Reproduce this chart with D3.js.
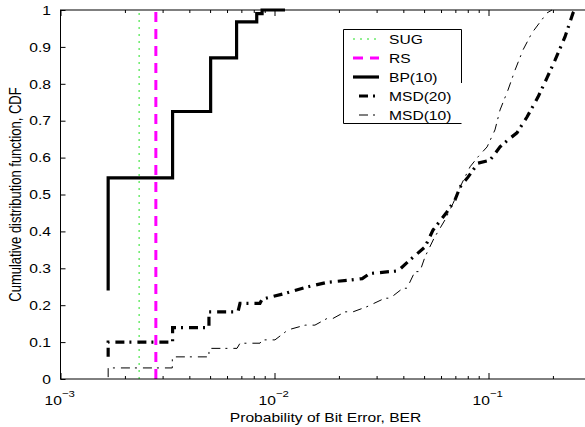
<!DOCTYPE html>
<html>
<head>
<meta charset="utf-8">
<script src="https://cdn.jsdelivr.net/npm/d3@7"></script>
<style>
  body { margin: 0; background: #fff; }
  svg { display: block; }
  text { font-family: "Liberation Sans", Arial, Helvetica, sans-serif; font-size: 13px; fill: #000; }
</style>
</head>
<body>
<script>
// values
const sugBER = [0.00233, 0.00233]
const sugCDF = [0, 1]

const rsBER = [0.00279, 0.00279]
const rsCDF = [0, 1]

const bpBER = [0.00167, 0.00167, 0.00334, 0.00503, 0.00665, 0.00826, 0.00875, 0.0112]
const bpCDF = [0.24, 0.545, 0.725, 0.87, 0.968, 0.99, 1, 1]

const msd20BER = [0.00167, 0.00167, 0.00334, 0.00334, 0.00494, 0.00494, 0.00675, 0.0069, 0.00855, 0.00875,
  0.0112, 0.0139, 0.0176, 0.0225, 0.0257, 0.0279, 0.0378, 0.0421, 0.0505, 0.0551,
  0.0633, 0.0697, 0.0736, 0.0802, 0.0893, 0.1016, 0.1132, 0.1233, 0.1358, 0.1513,
  0.1703, 0.1876, 0.2046, 0.2277, 0.2483, 0.2537]
const msd20CDF = [0.06, 0.1, 0.1, 0.139, 0.139, 0.182, 0.182, 0.205, 0.205, 0.216,
  0.232, 0.248, 0.262, 0.268, 0.272, 0.286, 0.293, 0.318, 0.358, 0.404,
  0.449, 0.485, 0.52, 0.547, 0.585, 0.593, 0.629, 0.648, 0.667, 0.71,
  0.764, 0.816, 0.864, 0.927, 0.992, 1.0]

const msd10BER = [0.00167, 0.00167, 0.00333, 0.00333, 0.00494, 0.00494, 0.00668, 0.0069, 0.00855, 0.00875,
  0.01005, 0.01156, 0.0139, 0.01545, 0.0176, 0.01875, 0.02134, 0.02327, 0.02705, 0.0328,
  0.0347, 0.0398, 0.0416, 0.0453, 0.0478, 0.0505, 0.0556, 0.0626, 0.0683, 0.0752,
  0.082, 0.0893, 0.0985, 0.1072, 0.1132, 0.1233, 0.133, 0.145, 0.1596, 0.1876, 0.198]
const msd10CDF = [0.005, 0.03, 0.03, 0.06, 0.06, 0.083, 0.083, 0.097, 0.097, 0.106,
  0.106, 0.133, 0.146, 0.146, 0.164, 0.164, 0.182, 0.182, 0.196, 0.219,
  0.219, 0.246, 0.246, 0.291, 0.291, 0.331, 0.381, 0.431, 0.476, 0.531,
  0.575, 0.602, 0.629, 0.675, 0.729, 0.783, 0.837, 0.892, 0.938, 0.992, 1.0]

const xMajor = [0.001, 0.01, 0.1]
const xMajorLabels = ["\u22123", "\u22122", "\u22121"]
const yTicks = [0, 0.1, 0.2, 0.3, 0.4, 0.5, 0.6, 0.7, 0.8, 0.9, 1]
const yTickLabels = ["0", "0.1", "0.2", "0.3", "0.4", "0.5", "0.6", "0.7", "0.8", "0.9", "1"]
const legendNames = ["SUG", "RS", "BP(10)", "MSD(20)", "MSD(10)"]

const width = 585, height = 427
const mLeft = 60.5, mTop = 10, mBottom = 379
const stretch = 1.2   // the figure text is a bit wider than tall

let svg = d3.select('body').append('svg')
  .attr('width', width)
  .attr('height', height)

let x = d3.scaleLog().domain([0.001, 0.3]).range([mLeft, mLeft + 214 * Math.log10(300)])
let y = d3.scaleLinear().domain([0, 1]).range([mBottom, mTop])
let mRight = x(0.3)

svg.append('defs').append('clipPath').attr('id', 'plot')
  .append('rect').attr('x', mLeft).attr('y', mTop - 2).attr('width', mRight - mLeft).attr('height', mBottom - mTop + 2)

// minor ticks 2..9 per decade
let xMinor = []
x.ticks().forEach(t => { if (xMajor.indexOf(t) < 0) xMinor.push(t) })

function noDomain(g) { g.select('.domain').remove() }

svg.append('g').attr('transform', 'translate(0,' + mBottom + ')')
  .call(d3.axisBottom(x).tickValues(xMajor).tickSize(-6).tickFormat('')).call(noDomain)
svg.append('g').attr('transform', 'translate(0,' + mBottom + ')')
  .call(d3.axisBottom(x).tickValues(xMinor).tickSize(-3).tickFormat('')).call(noDomain)
svg.append('g').attr('transform', 'translate(0,' + mTop + ')')
  .call(d3.axisTop(x).tickValues(xMajor).tickSize(-6).tickFormat('')).call(noDomain)
svg.append('g').attr('transform', 'translate(0,' + mTop + ')')
  .call(d3.axisTop(x).tickValues(xMinor).tickSize(-3).tickFormat('')).call(noDomain)
svg.append('g').attr('transform', 'translate(' + mLeft + ',0)')
  .call(d3.axisLeft(y).tickValues(yTicks).tickSize(-5).tickFormat('')).call(noDomain)
svg.append('g').attr('transform', 'translate(' + mRight + ',0)')
  .call(d3.axisRight(y).tickValues(yTicks).tickSize(-5).tickFormat('')).call(noDomain)
svg.selectAll('.tick line').attr('stroke', '#000').attr('stroke-width', 1)

// y tick labels
yTicks.forEach((v, i) => {
  svg.append('text')
    .attr('transform', 'translate(51,' + (y(v) + 4.7) + ') scale(' + stretch + ',1)')
    .attr('text-anchor', 'end')
    .text(yTickLabels[i])
})

// x tick labels 10^n
xMajor.forEach((v, i) => {
  let g = svg.append('g').attr('transform', 'translate(' + (x(v) - 16) + ',405) scale(' + stretch + ',1)')
  g.append('text').text('10')
  g.append('text').attr('x', 14.5).attr('y', -8).style('font-size', '9.5px').text(xMajorLabels[i])
})

// axis titles
svg.append('text')
  .attr('transform', 'translate(' + ((mLeft + mRight) / 2) + ',422) scale(' + stretch + ',1)')
  .attr('text-anchor', 'middle')
  .text('Probability of Bit Error, BER')
svg.append('text')
  .attr('transform', 'translate(21,' + ((mTop + mBottom) / 2) + ') rotate(-90) scale(1,' + stretch + ')')
  .attr('text-anchor', 'middle')
  .text('Cumulative distribution function, CDF')

let series = [
  { name: legendNames[0], xs: sugBER, ys: sugCDF, color: '#22e022', w: 1, dash: '2,5', curve: d3.curveLinear },
  { name: legendNames[1], xs: rsBER, ys: rsCDF, color: '#ff00ff', w: 3, dash: '10,7', curve: d3.curveLinear },
  { name: legendNames[2], xs: bpBER, ys: bpCDF, color: '#000', w: 3.2, dash: null, curve: d3.curveStepAfter },
  { name: legendNames[3], xs: msd20BER, ys: msd20CDF, color: '#000', w: 3.2, dash: '9,5,2,6', curve: d3.curveLinear },
  { name: legendNames[4], xs: msd10BER, ys: msd10CDF, color: '#000', w: 1, dash: '9,5,2,6', curve: d3.curveLinear }
]

let plot = svg.append('g').attr('clip-path', 'url(#plot)')
series.forEach(s => {
  let pts = s.xs.map((v, i) => [v, s.ys[i]])
  let line = d3.line().x(d => x(d[0])).y(d => y(d[1])).curve(s.curve)
  plot.append('path')
    .attr('d', line(pts))
    .attr('fill', 'none')
    .attr('stroke', s.color)
    .attr('stroke-width', s.w)
    .attr('stroke-dasharray', s.dash)
})

// axes box
svg.append('rect')
  .attr('x', mLeft).attr('y', mTop)
  .attr('width', mRight - mLeft).attr('height', mBottom - mTop)
  .attr('fill', 'none').attr('stroke', '#000').attr('stroke-width', 1)

// legend
let lg = svg.append('g')
lg.append('rect').attr('x', 343.5).attr('y', 29.5).attr('width', 118).attr('height', 94)
  .attr('fill', '#fff')
lg.append('path').attr('d', 'M461.5,83V29.5H343.5V123.5H461.5')
  .attr('fill', 'none').attr('stroke', '#000').attr('stroke-width', 1)
series.forEach((s, i) => {
  let cy = 39 + i * 19
  lg.append('line')
    .attr('x1', 353).attr('x2', 379).attr('y1', cy).attr('y2', cy)
    .attr('stroke', s.color).attr('stroke-width', s.w)
    .attr('stroke-dasharray', s.dash)
    .attr('stroke-dashoffset', s.dash && s.dash.split(',').length > 2 ? 16 : 0)
  lg.append('text')
    .attr('transform', 'translate(389,' + (cy + 4.7) + ') scale(' + stretch + ',1)')
    .text(s.name)
})
</script>
</body>
</html>
